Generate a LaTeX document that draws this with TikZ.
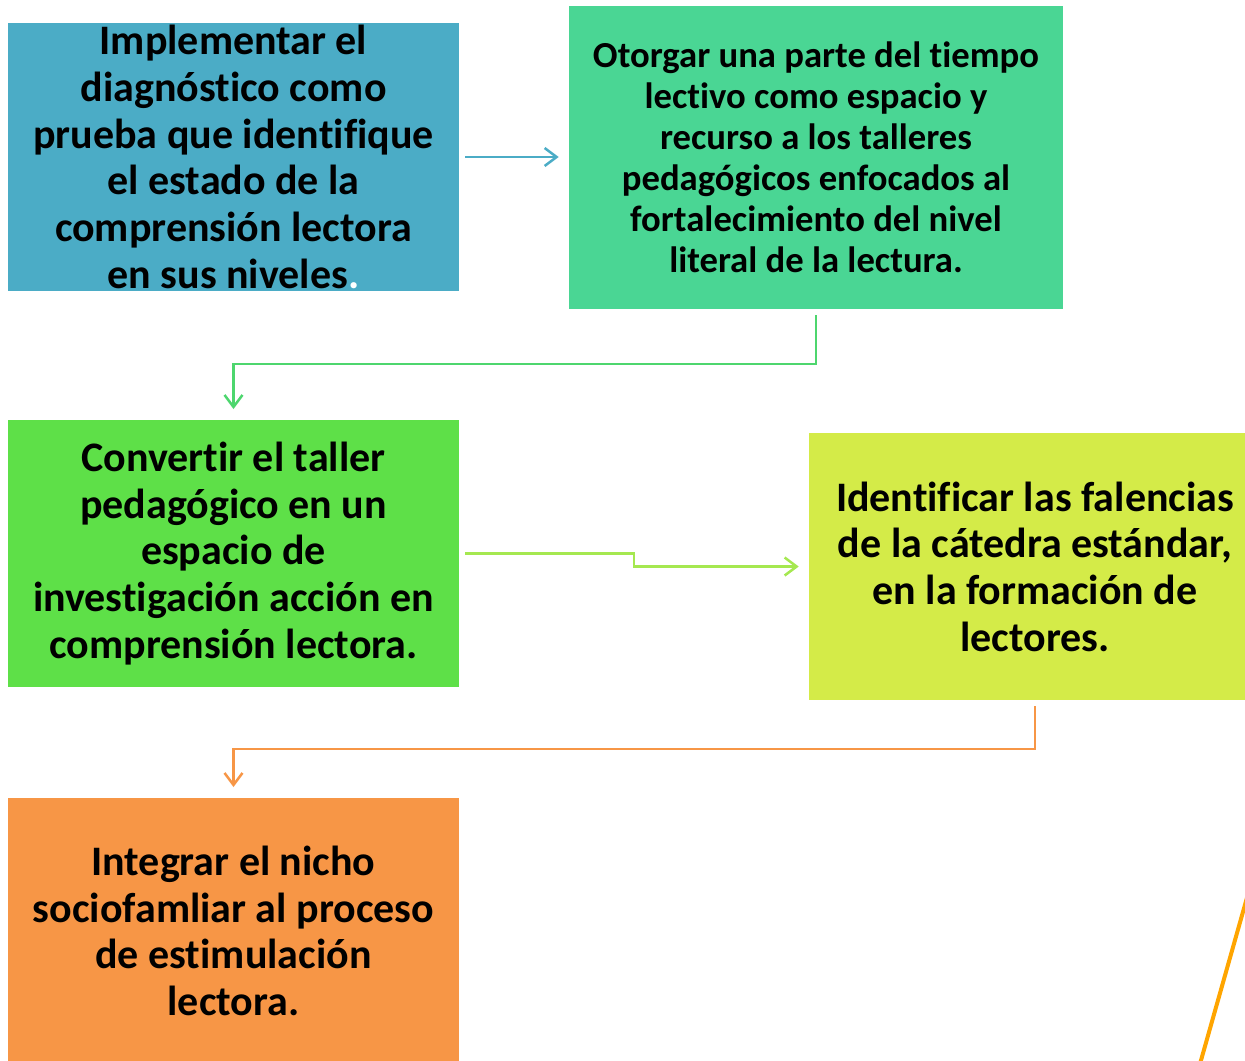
\documentclass[tikz,border=0pt]{standalone}
\usepackage{fontspec}
\setmainfont{Carlito}[Ligatures=NoCommon]
\usetikzlibrary{arrows.meta}

\definecolor{azulA}{RGB}{75,172,198}
\definecolor{verdeB}{RGB}{74,214,148}
\definecolor{verdeC}{RGB}{94,224,72}
\definecolor{limaD}{RGB}{212,235,72}
\definecolor{naranjaE}{RGB}{247,150,70}
\definecolor{flechaBC}{RGB}{77,214,110}
\definecolor{flechaCD}{RGB}{165,232,80}
\definecolor{trazo}{RGB}{255,165,0}

\tikzset{
  caja/.style={rectangle, inner sep=0pt, align=center, font=\bfseries\fontsize{31.5}{35}\selectfont},
  flecha/.style={line width=1.9pt, -{Straight Barb[length=9pt,width=13.5pt,line width=1.9pt]}}
}

\begin{document}
\begin{tikzpicture}[x=0.75pt,y=0.75pt,yscale=-1,xscale=1]
    \useasboundingbox (0,0) rectangle (1245,1060);

    % Cajas
    \node [caja, fill=azulA, minimum width=338.25pt, minimum height=201pt] (diag) at (233.5,157)
      {Implementar el\\diagnóstico como\\prueba que identifique\\el estado de la\\comprensión lectora\\en sus niveles\textcolor{white}{.}};
    \node [caja, fill=verdeB, minimum width=370.5pt, minimum height=227.25pt, font=\bfseries\fontsize{27.5}{30.75}\selectfont] (tiempo) at (816,157.5)
      {Otorgar una parte del tiempo\\lectivo como espacio y\\recurso a los talleres\\pedagógicos enfocados al\\fortalecimiento del nivel\\literal de la lectura.};
    \node [caja, fill=verdeC, minimum width=338.25pt, minimum height=200.25pt] (taller) at (233.5,553.5)
      {Convertir el taller\\pedagógico en un\\espacio de\\investigación acción en\\comprensión lectora.};
    \node [caja, fill=limaD, minimum width=339pt, minimum height=200.25pt] (falencias) at (1035,566.5)
      {Identificar las falencias\\de la cátedra estándar,\\en la formación de\\lectores.};
    \node [caja, fill=naranjaE, minimum width=338.25pt, minimum height=199.5pt] (nicho) at (233.5,931)
      {Integrar el nicho\\sociofamliar al proceso\\de estimulación\\lectora.};

    % Conectores
    \draw [flecha, azulA, shorten <=4.5pt, shorten >=7.5pt] (diag.east) -- (tiempo.west |- diag.east);
    \draw [flecha, flechaBC, shorten <=4.5pt, shorten >=8pt] (tiempo.south) -- (tiempo.south |- 0,364) -| (taller.north);
    \draw [flecha, flechaCD, shorten <=4.5pt, shorten >=7.5pt] (taller.east) -- (taller.east -| 634,0) |- (falencias.west);
    \draw [flecha, naranjaE, shorten <=4.5pt, shorten >=8pt] (falencias.south) -- (falencias.south |- 0,749) -| (nicho.north);

    % Trazo
    \draw [trazo, line width=3pt] (1250,887) -- (1196,1078);
\end{tikzpicture}
\end{document}
